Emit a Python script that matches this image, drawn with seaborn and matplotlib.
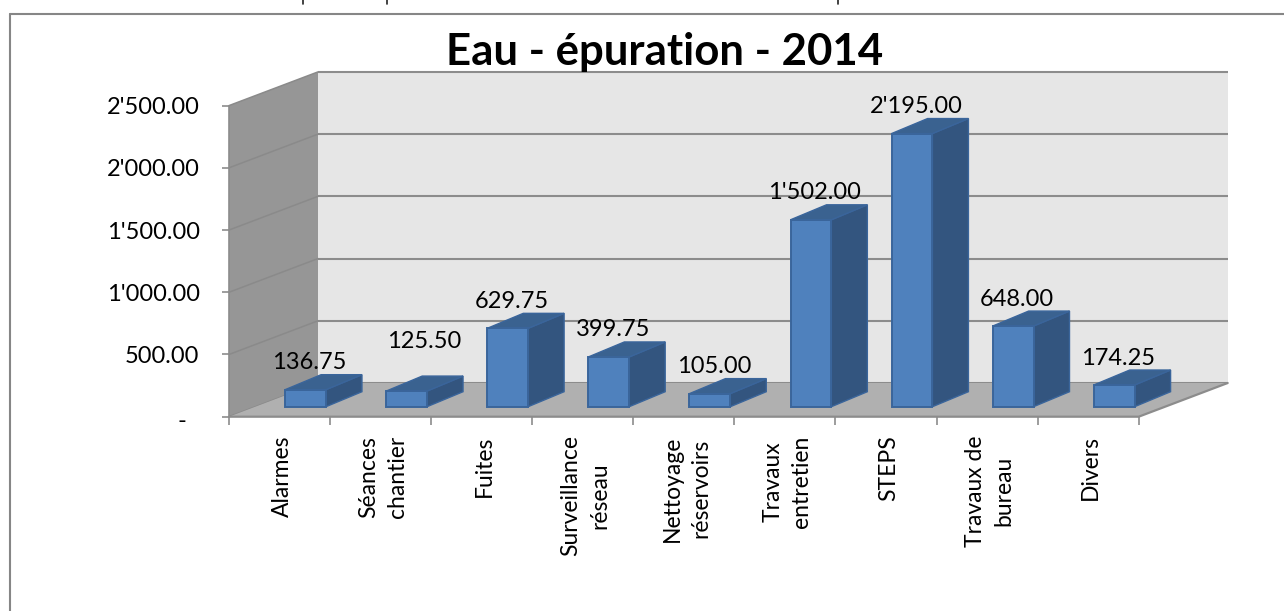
import matplotlib
matplotlib.use("Agg")
import matplotlib.pyplot as plt
from matplotlib.lines import Line2D
from matplotlib.transforms import ScaledTranslation
import seaborn as sns

categories = ["Alarmes", "Séances\nchantier", "Fuites", "Surveillance\nréseau",
              "Nettoyage\nréservoirs", "Travaux\nentretien", "STEPS",
              "Travaux de\nbureau", "Divers"]
values = [136.75, 125.50, 629.75, 399.75, 105.00, 1502.00, 2195.00, 648.00, 174.25]
y_ticks = [0, 500, 1000, 1500, 2000, 2500]
title = "Eau - épuration - 2014"

W, H = 1284, 611
AX_L, AX_R, AX_B, AX_T = 229.0, 1138.7, 416.7, 105.6   # pixel frame of the front plane

sns.set_theme(style="white")
plt.rcParams["font.family"] = ["Lato", "DejaVu Sans"]

fig = plt.figure(figsize=(W / 100, H / 100), dpi=100, facecolor="white")
ax = fig.add_axes([AX_L / W, 1 - AX_B / H, (AX_R - AX_L) / W, (AX_B - AX_T) / H])
ax.patch.set_visible(False)
for s in ax.spines.values():
    s.set_visible(False)

px_x = (AX_R - AX_L) / len(categories)          # pixels per category
px_y = (AX_B - AX_T) / max(y_ticks)             # pixels per value unit
def dx(p): return p / px_x
def dy(p): return p / px_y

LEFT, RIGHT = -0.5, len(categories) - 0.5
TOP = max(y_ticks)
WALL_X, WALL_Y = dx(89), dy(33.7)
BAR_X, BAR_Y = dx(36), dy(15)
SHIFT, LIFT = dx(26), dy(10)

GRID = "#8c8c8c"
# walls and floor
ax.fill([LEFT + WALL_X, RIGHT + WALL_X, RIGHT + WALL_X, LEFT + WALL_X],
        [WALL_Y, WALL_Y, TOP + WALL_Y, TOP + WALL_Y],
        color="#e6e6e6", lw=0, zorder=1, clip_on=False)
ax.fill([LEFT, LEFT + WALL_X, LEFT + WALL_X, LEFT],
        [0, WALL_Y, TOP + WALL_Y, TOP],
        color="#969696", lw=0, zorder=1.1, clip_on=False)
for v in y_ticks:
    ax.plot([LEFT + WALL_X, RIGHT + WALL_X], [v + WALL_Y, v + WALL_Y],
            color=GRID, lw=1.5, zorder=1.5, clip_on=False, solid_capstyle="butt")
    ax.plot([LEFT, LEFT + WALL_X], [v, v + WALL_Y],
            color="#8a8a8a", lw=1.1, zorder=1.5, clip_on=False)
ax.fill([LEFT, RIGHT, RIGHT + WALL_X, LEFT + WALL_X],
        [0, 0, WALL_Y, WALL_Y],
        color="#b0b0b0", lw=0, zorder=2, clip_on=False)
ax.plot([LEFT, RIGHT, RIGHT + WALL_X], [0, 0, WALL_Y], color=GRID, lw=1.6,
        zorder=2.1, clip_on=False)
ax.plot([LEFT, LEFT], [0, TOP], color=GRID, lw=1.2, zorder=2.1, clip_on=False)

# front faces of the bars
sns.barplot(x=list(range(len(categories))), y=values, bottom=LIFT, width=0.404,
            color="#4f81bd", saturation=1, edgecolor="#3a659b", linewidth=1.4,
            ax=ax, zorder=4)
fronts = list(ax.containers[0])
for p in fronts:
    p.set_x(p.get_x() + SHIFT)
    p.set_clip_on(False)

def fmt(v):
    return f"{v:,.2f}".replace(",", "'")

nudges = {1: (14, 23)}   # label moved by hand in the original
for i, (p, v) in enumerate(zip(fronts, values)):
    x0, x1 = p.get_x(), p.get_x() + p.get_width()
    y0, y1 = LIFT, LIFT + v
    ax.fill([x1, x1 + BAR_X, x1 + BAR_X, x1],
            [y0, y0 + BAR_Y, y1 + BAR_Y, y1],
            facecolor="#33557f", edgecolor="#3a659b", lw=1.0, zorder=3.5, clip_on=False)
    ax.fill([x0, x1, x1 + BAR_X, x0 + BAR_X],
            [y1, y1, y1 + BAR_Y, y1 + BAR_Y],
            facecolor="#3a6290", edgecolor="#3a659b", lw=1.0, zorder=3.6, clip_on=False)
    nx, ny = nudges.get(i, (0, 0))
    ax.annotate(fmt(v), ((x0 + x1) / 2, y1), xytext=(4 + nx, 27 + ny),
                textcoords="offset pixels", ha="center", va="center",
                fontsize=17, color="black", zorder=6, annotation_clip=False)

# axes
ax.set_xlim(LEFT, RIGHT)
ax.set_ylim(0, TOP)
ax.set_xticks(range(len(categories)))
ax.set_xticklabels(categories, rotation=90, ha="center", va="top",
                   multialignment="center", linespacing=1.45, fontsize=16.5, color="black")
ax.set_xticks([LEFT + k for k in range(len(categories) + 1)], minor=True)
ax.tick_params(axis="x", which="major", length=0, pad=13.5)
ax.tick_params(axis="x", which="minor", length=5.8, width=1.2, color=GRID, bottom=True)
for lbl in ax.get_xticklabels():
    lbl.set_transform(lbl.get_transform() + ScaledTranslation(0.025, 0, fig.dpi_scale_trans))
ax.set_yticks(y_ticks)
ax.set_yticklabels(["-"] + [fmt(v) for v in y_ticks[1:]], fontsize=17, color="black")
ax.tick_params(axis="y", length=5.2, width=1.2, color=GRID, pad=16, left=True)
ax.set_xlabel("")
ax.set_ylabel("")
zero = ax.get_yticklabels()[0]
zero.set_transform(zero.get_transform() + ScaledTranslation(-0.13, -0.03, fig.dpi_scale_trans))

fig.suptitle(title, x=665 / W, y=1 - 52 / H, ha="center", va="center",
             fontsize=31.5, fontweight="bold", color="black")

# chart-area frame, running off the page
FR = "#868686"
fx, fy = 9.5 / W, 1 - 14 / H
fig.add_artist(Line2D([fx, fx], [0, fy], color=FR, lw=1.5, transform=fig.transFigure))
fig.add_artist(Line2D([fx, 1], [fy, fy], color=FR, lw=1.5, transform=fig.transFigure))

# tiny stubs left by the page text cropped off above the chart
for px in (303, 387, 838):
    fig.add_artist(Line2D([px / W, px / W], [1, 1 - 4 / H], color="#222222", lw=1.2,
                          transform=fig.transFigure))

fig.savefig("out.png", dpi=100)
